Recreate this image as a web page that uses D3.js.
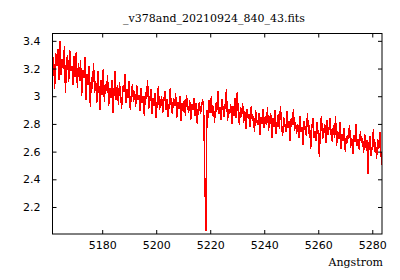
<!DOCTYPE html>
<html>
<head>
<meta charset="utf-8">
<script src="https://cdn.jsdelivr.net/npm/d3@7"></script>
<style>
  body { margin: 0; background: #fff; }
  svg { display: block; }
</style>
</head>
<body>
<svg id="chart" width="400" height="280"></svg>
<script>
// spectrum, linear wavelength grid (start + step, as in the fits header)
var lambda0 = 5161.6;
var dlambda = 0.4;
var flux = [
  // 5161.6 - 5171.6
  3.18, 3.28, 3.05, 3.31, 3.22, 3.34, 3.12, 3.40, 3.15, 3.27,
  3.20, 3.36, 3.02, 3.25, 3.30, 3.10, 3.33, 3.18, 3.22, 3.08,
  3.29, 3.14, 3.32, 3.06, 3.24, 3.11,
  // 5172 - 5181.6
  3.26, 3.00, 3.19, 3.13, 3.28, 2.97, 3.16, 3.08, 3.22, 2.92,
  3.14, 3.05, 3.24, 3.02, 3.11, 2.95, 3.18, 3.06, 2.90, 3.12,
  3.01, 3.20, 2.96, 3.09, 3.04,
  // 5182 - 5191.6
  3.15, 2.93, 3.06, 2.99, 3.12, 2.88, 3.04, 3.18, 2.97, 3.08,
  2.94, 3.10, 3.01, 2.91, 3.07, 3.03, 3.16, 2.95, 3.05, 2.99,
  3.11, 2.90, 3.02, 3.09, 2.96,
  // 5192 - 5201.6
  3.04, 2.92, 3.08, 2.97, 3.01, 2.89, 3.06, 2.95, 3.00, 2.86,
  3.03, 2.98, 3.12, 2.91, 2.96, 3.05, 2.87, 2.99, 2.93, 3.02,
  2.84, 2.97, 3.07, 2.90, 2.95,
  // 5202 - 5211.6
  3.00, 2.88, 2.96, 3.04, 2.90, 2.98, 2.85, 2.94, 3.06, 2.92,
  2.87, 2.99, 2.93, 3.02, 2.84, 2.96, 2.91, 3.00, 2.82, 2.95,
  2.89, 2.97, 2.86, 3.01, 2.93,
  // 5212 - 5217.6
  2.88, 2.97, 2.83, 2.94, 2.90, 2.99, 2.86, 2.95, 2.80, 2.92,
  2.96, 2.87, 2.93, 2.98, 2.89,
  // the line at ~5218
  2.40, 2.03,
  // 5218.8 - 5228
  2.90, 2.84, 2.97, 2.88, 3.00, 2.86, 2.93, 2.81, 2.95, 2.89,
  3.04, 2.87, 2.92, 2.83, 2.98, 2.90, 2.85, 2.96, 3.05, 2.82,
  2.91, 2.87, 2.94, 2.80,
  // 5228.4 - 5240
  2.93, 2.86, 2.99, 2.84, 3.03, 2.88, 2.79, 2.92, 2.85, 2.95,
  2.81, 2.89, 2.76, 2.91, 2.84, 2.87, 2.78, 2.93, 2.82, 2.86,
  2.74, 2.90, 2.83, 2.79, 2.88, 2.72, 2.85, 2.80, 2.91, 2.77,
  // 5240.4 - 5252
  2.86, 2.79, 2.92, 2.75, 2.83, 2.88, 2.70, 2.84, 2.78, 2.90,
  2.73, 2.81, 2.87, 2.76, 2.93, 2.79, 2.71, 2.85, 2.80, 2.74,
  2.89, 2.77, 2.82, 2.68, 2.84, 2.79, 2.91, 2.75, 2.81, 2.73,
  // 5252.4 - 5264
  2.80, 2.70, 2.86, 2.74, 2.78, 2.65, 2.82, 2.76, 2.71, 2.88,
  2.73, 2.79, 2.62, 2.77, 2.84, 2.70, 2.75, 2.68, 2.81, 2.72,
  2.56, 2.78, 2.86, 2.69, 2.74, 2.80, 2.66, 2.83, 2.72, 2.77,
  // 5264.4 - 5276
  2.84, 2.72, 2.67, 2.79, 2.70, 2.86, 2.64, 2.75, 2.69, 2.81,
  2.62, 2.73, 2.68, 2.77, 2.60, 2.71, 2.66, 2.74, 2.79, 2.63,
  2.70, 2.58, 2.72, 2.67, 2.80, 2.64, 2.69, 2.61, 2.75, 2.66,
  // 5276.4 - 5283.6
  2.70, 2.59, 2.73, 2.63, 2.68, 2.44, 2.66, 2.71, 2.57, 2.64,
  2.76, 2.60, 2.67, 2.55, 2.69, 2.62, 2.74, 2.58, 2.50
];
var xTicks = [5180, 5200, 5220, 5240, 5260, 5280];
var yTicks = [2.2, 2.4, 2.6, 2.8, 3, 3.2, 3.4];
var xDomain = [5161.6, 5283.6];
var yDomain = [2.005, 3.453];
var title = "_v378and_20210924_840_43.fits";
var xLabel = "Angstrom";

var svg = d3.select('#chart');
var margin = {left: 52.5, right: 18, top: 33.5, bottom: 46};
var w = 400 - margin.left - margin.right;
var h = 280 - margin.top - margin.bottom;

var x = d3.scaleLinear().domain(xDomain).range([margin.left, margin.left + w]);
var y = d3.scaleLinear().domain(yDomain).range([margin.top + h, margin.top]);

var data = [];
for (var i = 0; i < flux.length; i++) {
  data.push({l: lambda0 + i * dlambda, f: flux[i]});
}

svg.append('clipPath').attr('id', 'clip')
  .append('rect')
  .attr('x', margin.left).attr('y', margin.top)
  .attr('width', w).attr('height', h);

var line = d3.line()
  .x(function(d) { return x(d.l); })
  .y(function(d) { return y(d.f); });

svg.append('path')
  .datum(data)
  .attr('clip-path', 'url(#clip)')
  .attr('fill', 'none')
  .attr('stroke', '#ff0000')
  .attr('stroke-width', 1.4)
  .attr('stroke-linejoin', 'miter')
  .attr('stroke-miterlimit', 2)
  .attr('shape-rendering', 'crispEdges')
  .attr('d', line);

// axes, ticks pointing inward on all four sides
var fmt = function(v) { return String(+v.toFixed(1)); };
var tickFont = '"DejaVu Sans", sans-serif';

var xb = svg.append('g')
  .attr('transform', 'translate(0,' + (margin.top + h) + ')')
  .call(d3.axisBottom(x).tickValues(xTicks).tickSizeInner(-4).tickSizeOuter(0).tickPadding(7).tickFormat(d3.format('d')));
var xt = svg.append('g')
  .attr('transform', 'translate(0,' + margin.top + ')')
  .call(d3.axisTop(x).tickValues(xTicks).tickSizeInner(-4).tickSizeOuter(0).tickFormat(''));
var yl = svg.append('g')
  .attr('transform', 'translate(' + margin.left + ',0)')
  .call(d3.axisLeft(y).tickValues(yTicks).tickSizeInner(-4).tickSizeOuter(0).tickPadding(12).tickFormat(fmt));
var yr = svg.append('g')
  .attr('transform', 'translate(' + (margin.left + w) + ',0)')
  .call(d3.axisRight(y).tickValues(yTicks).tickSizeInner(-4).tickSizeOuter(0).tickFormat(''));

[xb, xt, yl, yr].forEach(function(a) {
  a.selectAll('.domain').remove();
  a.selectAll('line').attr('stroke', '#000');
  a.selectAll('text')
    .attr('fill', '#000')
    .style('font-family', tickFont)
    .style('font-size', '11px');
});

// border
svg.append('rect')
  .attr('x', margin.left).attr('y', margin.top)
  .attr('width', w).attr('height', h)
  .attr('fill', 'none')
  .attr('stroke', '#000')
  .attr('stroke-width', 1);

svg.append('text')
  .attr('x', 214)
  .attr('y', 22)
  .attr('text-anchor', 'middle')
  .style('font-family', '"DejaVu Serif", serif')
  .style('font-size', '11px')
  .text(title);

svg.append('text')
  .attr('x', 383)
  .attr('y', 266)
  .attr('text-anchor', 'end')
  .style('font-family', '"DejaVu Serif", serif')
  .style('font-size', '11px')
  .text(xLabel);
</script>
</body>
</html>
